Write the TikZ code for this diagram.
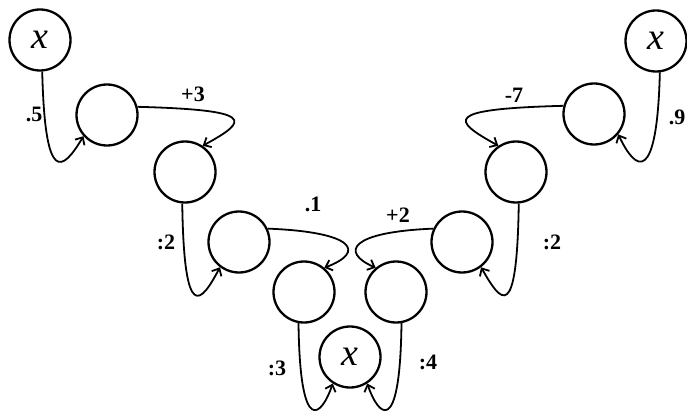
\documentclass[tikz,border=0pt]{standalone}
\usepackage{fontspec}
\setmainfont{Liberation Serif}
\usetikzlibrary{arrows.meta}
\begin{document}
\begin{tikzpicture}[x=1pt,y=1pt,
  state/.style={circle,draw,line width=2.3pt,minimum size=61pt,inner sep=0pt},
  xstate/.style={state,font=\itshape\fontsize{38}{38}\selectfont},
  conn/.style={line width=1.8pt,-{Straight Barb[length=6pt,width=11pt,line width=1.8pt]}},
  lbl/.style={font=\bfseries\fontsize{22}{22}\selectfont,inner sep=0pt}]
\useasboundingbox (0,0) rectangle (687,410);
\clip (0,0) rectangle (687,410);
\node[xstate] (Xtl) at (40,370) {x};
\node[state] (A1) at (107,295) {};
\node[state] (A2) at (185,238) {};
\node[state] (A3) at (239,168) {};
\node[state] (A4) at (304,118) {};
\node[xstate] (Xb) at (350,53) {x};
\node[state] (B4) at (396,118) {};
\node[state] (B3) at (462,168) {};
\node[state] (B2) at (516,238) {};
\node[state] (B1) at (594,296) {};
\node[xstate] (Xtr) at (656,369) {x};
% connectors
\draw[conn] (Xtl.-86) .. controls (45,225) and (62,238) .. (A1.222);
\draw[conn] (A1.15) .. controls (255,300) and (250,290) .. (A2.56);
\draw[conn] (A2.-95) .. controls (184,85) and (201,107) .. (A3.233);
\draw[conn] (A3.25) .. controls (355,178) and (366,158) .. (A4.50);
\draw[conn] (A4.-100) .. controls (300,-30) and (322,-5) .. (Xb.237);
\draw[conn] (B4.-80) .. controls (400,-30) and (378,-5) .. (Xb.303);
\draw[conn] (B3.155) .. controls (350,178) and (340,158) .. (B4.130);
\draw[conn] (B2.-85) .. controls (517,85) and (501,108) .. (B3.307);
\draw[conn] (B1.165) .. controls (442,301) and (452,290) .. (B2.124);
\draw[conn] (Xtr.-83) .. controls (657,225) and (636,238) .. (B1.-40);
% labels
\node[lbl] (l1) at (34,296) {.5};
\node[lbl] (l2) at (193,316) {+3};
\node[lbl] (l3) at (166,168) {:2};
\node[lbl] (l4) at (313,206) {.1};
\node[lbl] (l5) at (277,42) {:3};
\node[lbl] (l6) at (428,48) {:4};
\node[lbl] (l7) at (398,195) {+2};
\node[lbl] (l8) at (552,168) {:2};
\node[lbl] (l9) at (514,315) {-7};
\node[lbl] (l10) at (677,293) {.9};
\end{tikzpicture}
\end{document}
